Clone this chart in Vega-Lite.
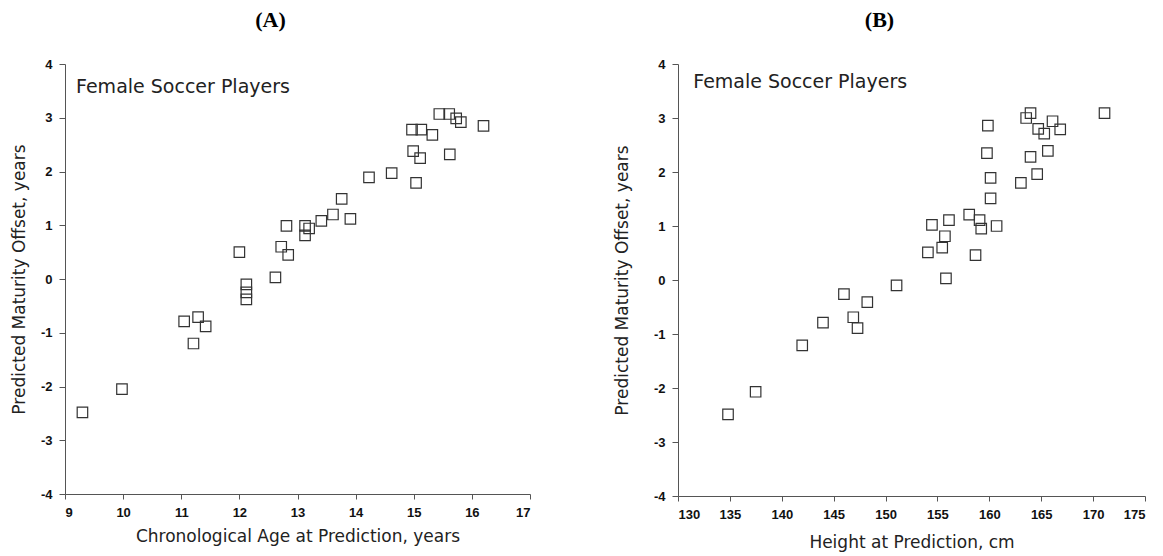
{
  "$schema": "https://vega.github.io/schema/vega-lite/v6.json",
  "padding": {"left": 10, "top": 9, "right": 5, "bottom": 5},
  "background": "white",
  "spacing": 82,
  "datasets": {
    "age": [
      {"age": 15.44, "offset": 3.07}, {"age": 15.61, "offset": 3.07}, {"age": 15.73, "offset": 2.99},
      {"age": 15.81, "offset": 2.92}, {"age": 16.2, "offset": 2.85}, {"age": 14.97, "offset": 2.78},
      {"age": 15.13, "offset": 2.78}, {"age": 15.32, "offset": 2.68}, {"age": 14.99, "offset": 2.38},
      {"age": 15.11, "offset": 2.25}, {"age": 15.62, "offset": 2.32}, {"age": 14.23, "offset": 1.89},
      {"age": 14.62, "offset": 1.97}, {"age": 15.04, "offset": 1.79}, {"age": 13.76, "offset": 1.49},
      {"age": 13.61, "offset": 1.2}, {"age": 13.41, "offset": 1.08}, {"age": 13.91, "offset": 1.12},
      {"age": 13.2, "offset": 0.94}, {"age": 13.13, "offset": 0.99}, {"age": 13.13, "offset": 0.81},
      {"age": 12.81, "offset": 0.99}, {"age": 12.72, "offset": 0.6}, {"age": 12.84, "offset": 0.45},
      {"age": 12.62, "offset": 0.03}, {"age": 12.12, "offset": -0.1}, {"age": 12.12, "offset": -0.25},
      {"age": 12.12, "offset": -0.38}, {"age": 12.0, "offset": 0.5}, {"age": 11.05, "offset": -0.79},
      {"age": 11.29, "offset": -0.71}, {"age": 11.42, "offset": -0.88}, {"age": 11.21, "offset": -1.2},
      {"age": 9.98, "offset": -2.05}, {"age": 9.3, "offset": -2.48}
    ],
    "height": [
      {"height": 163.97, "offset": 3.09}, {"height": 163.55, "offset": 3.0}, {"height": 166.09, "offset": 2.94},
      {"height": 164.71, "offset": 2.8}, {"height": 165.29, "offset": 2.71}, {"height": 166.83, "offset": 2.79},
      {"height": 171.1, "offset": 3.09}, {"height": 159.86, "offset": 2.86}, {"height": 159.77, "offset": 2.35},
      {"height": 163.97, "offset": 2.28}, {"height": 165.64, "offset": 2.39}, {"height": 160.12, "offset": 1.89},
      {"height": 164.61, "offset": 1.96}, {"height": 163.04, "offset": 1.8}, {"height": 160.12, "offset": 1.51},
      {"height": 158.06, "offset": 1.21}, {"height": 159.06, "offset": 1.11}, {"height": 159.22, "offset": 0.95},
      {"height": 160.7, "offset": 1.0}, {"height": 156.11, "offset": 1.11}, {"height": 154.47, "offset": 1.02},
      {"height": 155.72, "offset": 0.81}, {"height": 155.46, "offset": 0.6}, {"height": 154.08, "offset": 0.51},
      {"height": 158.67, "offset": 0.46}, {"height": 155.82, "offset": 0.03}, {"height": 151.06, "offset": -0.1},
      {"height": 148.24, "offset": -0.41}, {"height": 145.99, "offset": -0.26}, {"height": 143.97, "offset": -0.79},
      {"height": 146.89, "offset": -0.69}, {"height": 147.3, "offset": -0.89}, {"height": 141.97, "offset": -1.21},
      {"height": 137.48, "offset": -2.07}, {"height": 134.82, "offset": -2.49}
    ]
  },
  "config": {
    "view": {"stroke": null},
    "axis": {
      "grid": false,
      "domainColor": "#555555",
      "tickColor": "#555555",
      "labelFont": "Liberation Sans",
      "labelFontSize": 13,
      "labelFontWeight": "bold",
      "labelColor": "#111111",
      "titleFont": "DejaVu Sans",
      "titleFontSize": 17,
      "titleFontWeight": "normal",
      "titleColor": "#222222"
    },
    "axisX": {"tickSize": 5, "labelPadding": 7, "labelExpr": "'' + datum.value"},
    "axisY": {"tickSize": 6, "labelPadding": 7, "labelExpr": "datum.value < 0 ? datum.value + '\u00a0' : '' + datum.value"},
    "title": {
      "font": "Liberation Serif",
      "fontSize": 22,
      "fontWeight": "bold",
      "color": "#000000",
      "anchor": "middle",
      "frame": "bounds",
      "offset": 26
    }
  },
  "hconcat": [
    {
      "width": 465,
      "height": 430,
      "title": {"text": "(A)"},
      "data": {"name": "age"},
      "layer": [
        {
          "mark": {"type": "point", "shape": "square", "filled": false, "stroke": "#333333", "strokeWidth": 1.2, "size": 110, "opacity": 1},
          "encoding": {
            "x": {"field": "age", "type": "quantitative", "title": "Chronological Age at Prediction, years",
                  "scale": {"domain": [9, 17], "nice": false, "zero": false},
                  "axis": {"values": [9, 10, 11, 12, 13, 14, 15, 16, 17], "titlePadding": 9}},
            "y": {"field": "offset", "type": "quantitative", "title": "Predicted Maturity Offset, years",
                  "scale": {"domain": [-4, 4], "nice": false},
                  "axis": {"values": [-4, -3, -2, -1, 0, 1, 2, 3, 4], "titlePadding": 12}}
          }
        },
        {
          "data": {"values": [{}]},
          "mark": {"type": "text", "align": "left", "baseline": "middle", "font": "DejaVu Sans", "fontSize": 19, "color": "#222222"},
          "encoding": {
            "x": {"datum": 9.19, "type": "quantitative"},
            "y": {"datum": 3.58, "type": "quantitative"},
            "text": {"value": "Female Soccer Players"}
          }
        }
      ]
    },
    {
      "width": 467,
      "height": 432,
      "title": {"text": "(B)"},
      "data": {"name": "height"},
      "layer": [
        {
          "mark": {"type": "point", "shape": "square", "filled": false, "stroke": "#333333", "strokeWidth": 1.2, "size": 110, "opacity": 1},
          "encoding": {
            "x": {"field": "height", "type": "quantitative", "title": "Height at Prediction, cm",
                  "scale": {"domain": [130, 175], "nice": false, "zero": false},
                  "axis": {"values": [130, 135, 140, 145, 150, 155, 160, 165, 170, 175], "titlePadding": 13}},
            "y": {"field": "offset", "type": "quantitative", "title": "Predicted Maturity Offset, years",
                  "scale": {"domain": [-4, 4], "nice": false},
                  "axis": {"values": [-4, -3, -2, -1, 0, 1, 2, 3, 4], "titlePadding": 22}}
          }
        },
        {
          "data": {"values": [{}]},
          "mark": {"type": "text", "align": "left", "baseline": "middle", "font": "DejaVu Sans", "fontSize": 19, "color": "#222222"},
          "encoding": {
            "x": {"datum": 131.47, "type": "quantitative"},
            "y": {"datum": 3.66, "type": "quantitative"},
            "text": {"value": "Female Soccer Players"}
          }
        }
      ]
    }
  ]
}
